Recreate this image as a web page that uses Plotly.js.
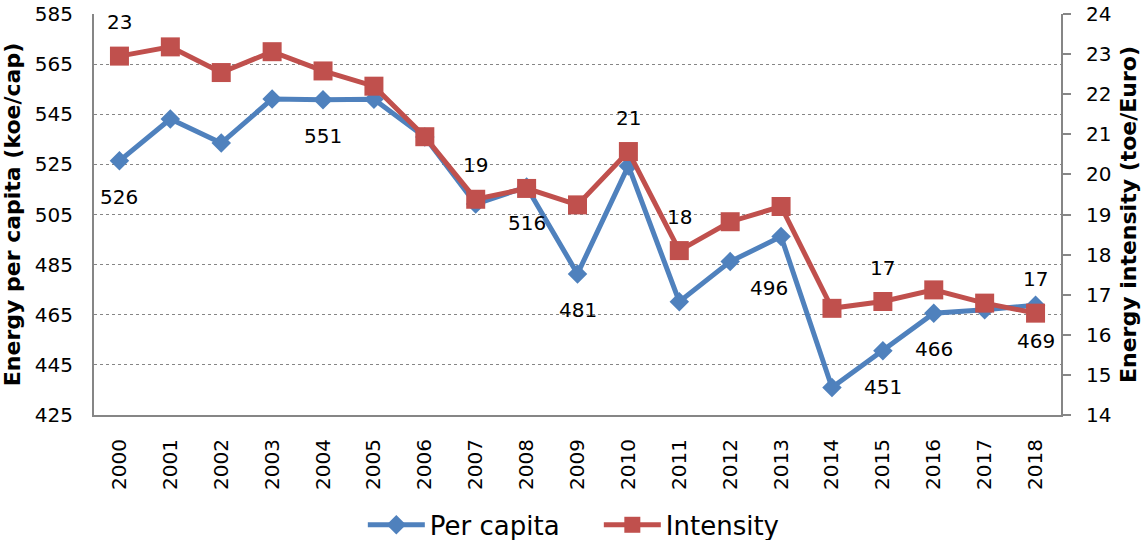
<!DOCTYPE html>
<html>
<head>
<meta charset="utf-8">
<script src="https://cdn.plot.ly/plotly-3.0.1.min.js"></script>
<style>html,body{margin:0;padding:0;background:#fff;}#chart{width:1141px;height:540px;}</style>
</head>
<body>
<div id="chart"></div>
<script>
const years = ["2000","2001","2002","2003","2004","2005","2006","2007","2008","2009","2010","2011","2012","2013","2014","2015","2016","2017","2018"];
const perCapita = [526.4, 543.1, 533.5, 551.1, 550.8, 551.0, 535.9, 509.2, 516.0, 481.3, 524.4, 470.2, 486.2, 496.2, 436.0, 450.6, 465.6, 467.0, 468.8];
const intensity = [22.95, 23.18, 22.54, 23.06, 22.58, 22.20, 20.94, 19.38, 19.65, 19.24, 20.57, 18.10, 18.82, 19.20, 16.66, 16.83, 17.12, 16.79, 16.54];
const perCapitaLabelIdx = [0, 4, 8, 9, 13, 15, 16, 18];
const intensityLabelIdx = [0, 7, 10, 11, 15, 18];
const leftTicks = [425, 445, 465, 485, 505, 525, 545, 565, 585];
const rightTicks = [14, 15, 16, 17, 18, 19, 20, 21, 22, 23, 24];

const BLUE = "#4F81BD", RED = "#C0504D";
const FONT = "DejaVu Sans, Verdana, sans-serif";

const traces = [
  {x: years, y: perCapita, name: "Per capita", type: "scatter", mode: "lines+markers",
   line: {color: BLUE, width: 5}, marker: {symbol: "diamond", size: 15, color: BLUE}, yaxis: "y"},
  {x: years, y: intensity, name: "Intensity", type: "scatter", mode: "lines+markers",
   line: {color: RED, width: 5}, marker: {symbol: "square", size: 19, color: RED}, yaxis: "y2"}
];

const annotations = [];
perCapitaLabelIdx.forEach(i => {
  const special = years[i] === "2013";
  annotations.push({x: i, y: perCapita[i], xref: "x", yref: "y", text: String(Math.round(perCapita[i])),
    showarrow: false, yshift: special ? -51 : -36, xshift: special ? -12 : 0, font: {family: FONT, size: 20, color: "#000"}});
});
intensityLabelIdx.forEach(i => {
  annotations.push({x: i, y: intensity[i], xref: "x", yref: "y2", text: String(Math.round(intensity[i])),
    showarrow: false, yshift: 34, font: {family: FONT, size: 20, color: "#000"}});
});

const layout = {
  width: 1141, height: 540,
  margin: {l: 94, r: 80, t: 14, b: 125, autoexpand: false},
  paper_bgcolor: "#fff", plot_bgcolor: "#fff",
  font: {family: FONT, size: 20, color: "#000"},
  showlegend: true,
  legend: {orientation: "h", x: 0.278, xanchor: "left", y: -0.274, yanchor: "middle",
    font: {family: FONT, size: 26, color: "#000"}, itemwidth: 57, entrywidth: 164, tracegroupgap: 0},
  xaxis: {type: "category", range: [-0.5, 18.5], tickangle: -90, showline: true, linecolor: "#868686", linewidth: 2,
    showgrid: false, ticks: "", ticklabelstandoff: 14, tickfont: {family: FONT, size: 20}, fixedrange: true},
  yaxis: {range: [425, 585], tickvals: leftTicks, ticktext: leftTicks.map(String), showline: true, linecolor: "#868686", linewidth: 2,
    showgrid: true, gridcolor: "#868686", griddash: "dot", gridwidth: 1, ticks: "", ticklabelstandoff: 15, zeroline: false,
    tickfont: {family: FONT, size: 20},
    title: {text: "Energy per capita (koe/cap)", font: {family: FONT, size: 22, weight: "bold"}, standoff: 16}, automargin: false},
  yaxis2: {range: [14, 24], tickvals: rightTicks, overlaying: "y", side: "right", showline: true, linecolor: "#868686", linewidth: 2,
    showgrid: false, ticks: "outside", ticklen: 8, tickcolor: "#868686", tickwidth: 2, zeroline: false, ticklabelstandoff: 11,
    tickfont: {family: FONT, size: 20},
    title: {text: "Energy intensity (toe/Euro)", font: {family: FONT, size: 22, weight: "bold"}, standoff: 13}, automargin: false},
  annotations: annotations
};

Plotly.newPlot("chart", traces, layout, {displayModeBar: false, staticPlot: true});
</script>
</body>
</html>
